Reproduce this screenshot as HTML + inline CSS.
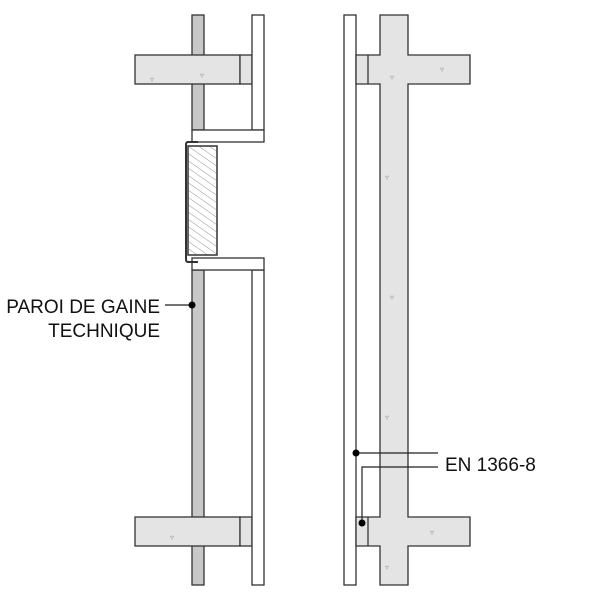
<!DOCTYPE html>
<html><head><style>body{margin:0;background:#fff}</style></head><body>
<svg width="600" height="600" viewBox="0 0 600 600" xmlns="http://www.w3.org/2000/svg">
<defs>
<pattern id="h" width="6" height="6" patternUnits="userSpaceOnUse" patternTransform="rotate(-55)">
<line x1="0" y1="0" x2="0" y2="6" stroke="#777" stroke-width="0.8"/></pattern>
</defs>
<g stroke="#333" stroke-width="1.3">
<!-- left shaft wall -->
<rect x="192" y="15" width="12" height="115" fill="#c8c8c8"/>
<rect x="192" y="270" width="12" height="315" fill="#c8c8c8"/>
<!-- slabs left -->
<rect x="135" y="55" width="105" height="29" fill="#e4e4e4"/>
<rect x="240" y="55" width="12" height="29" fill="#e4e4e4"/>
<rect x="135" y="517" width="105" height="29" fill="#e4e4e4"/>
<rect x="240" y="517" width="12" height="29" fill="#e4e4e4"/>
<!-- board -->
<rect x="252" y="15" width="12" height="115" fill="#fff"/>
<rect x="252" y="270" width="12" height="315" fill="#fff"/>
<rect x="192" y="130" width="72" height="12" fill="#fff"/>
<rect x="192" y="258" width="72" height="12" fill="#fff"/>
<!-- damper -->
<rect x="188" y="146" width="29" height="109" fill="#fff"/>
<rect x="188" y="146" width="29" height="109" fill="url(#h)"/>
<path d="M198 142 L188 142 Q186 142 186 145 L186 259 Q186 262 188 262 L198 262" fill="none" stroke-width="2"/>
<!-- right -->
<rect x="344" y="15" width="12" height="570" fill="#fff"/>
<path d="M380 15 V55 H356 V84 H380 V517 H356 V546 H380 V585 H408 V546 H470 V517 H408 V84 H470 V55 H408 V15 Z" fill="#e4e4e4"/>
<line x1="368" y1="55" x2="368" y2="84"/>
<line x1="368" y1="517" x2="368" y2="546"/>
</g>
<g fill="#999" font-size="8">
<text x="200" y="78">▿</text><text x="150" y="82">▿</text><text x="440" y="72">▿</text><text x="385" y="180">▿</text>
<text x="390" y="300">▿</text><text x="385" y="420">▿</text><text x="170" y="540">▿</text><text x="430" y="535">▿</text>
<text x="385" y="570">▿</text><text x="390" y="80">▿</text>
</g>
<g stroke="#222" stroke-width="1.2" fill="none">
<line x1="165" y1="305" x2="192" y2="305"/>
<line x1="356" y1="453" x2="438" y2="453"/>
<path d="M438 467 H362 V523"/>
</g>
<g fill="#000"><circle cx="192" cy="305" r="3.5"/><circle cx="356" cy="453" r="3.5"/><circle cx="362" cy="523" r="3.5"/></g>
<g font-family="Liberation Sans, sans-serif" font-size="19" fill="#111" text-anchor="end">
<text x="160" y="313">PAROI DE GAINE</text>
<text x="160" y="337">TECHNIQUE</text>
</g>
<text x="445" y="471" font-family="Liberation Sans, sans-serif" font-size="19" fill="#111">EN 1366-8</text>
</svg>
</body></html>
